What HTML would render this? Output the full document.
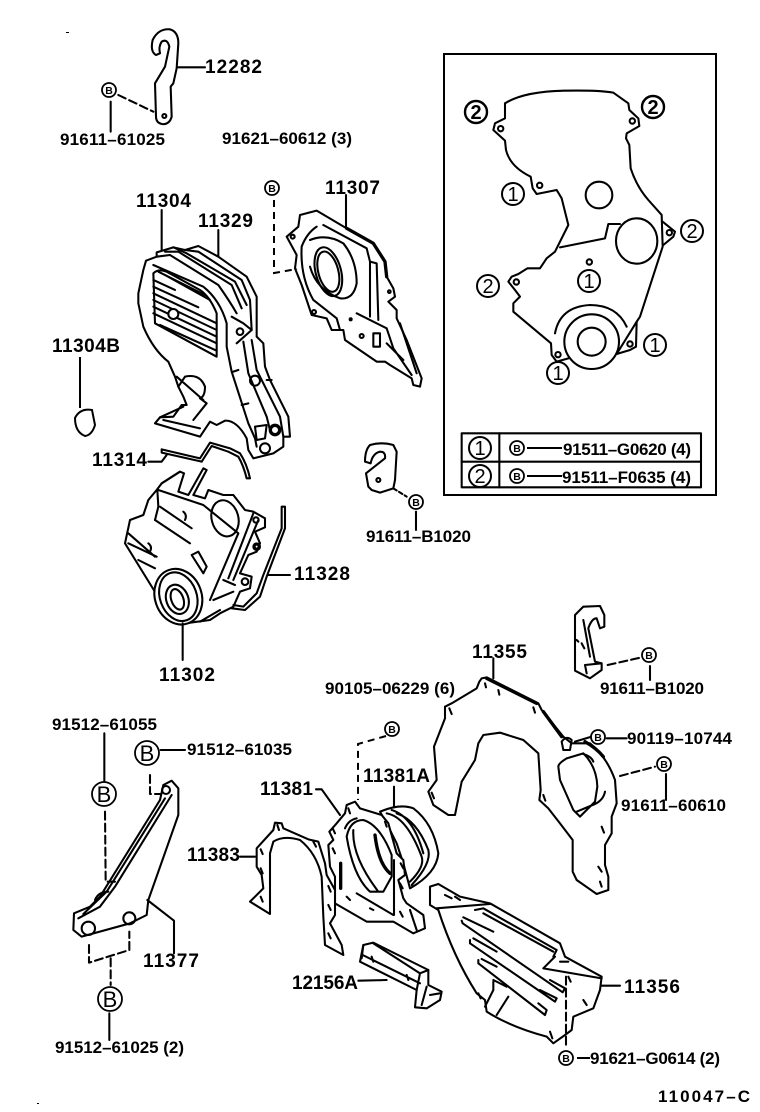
<!DOCTYPE html>
<html><head><meta charset="utf-8"><style>
html,body{margin:0;padding:0;background:#fff}
svg{display:block}
text{font-family:"Liberation Sans",sans-serif;font-weight:bold;fill:#000}
.l{font-size:17px}
.n{font-size:19px}
.c{font-size:20px;font-weight:normal;text-anchor:middle}
.cb{font-size:20px;font-weight:bold;text-anchor:middle}
.b{font-size:10.5px;text-anchor:middle}
.B{font-size:22px;font-weight:normal;text-anchor:middle}
.p path,.p ellipse,.p circle,.p rect{fill:none;stroke:#000;stroke-linejoin:round;stroke-linecap:round}
.p{stroke-width:6.2}
.p .f{fill:#fff}
.p .t{stroke-width:10}
.p .d{stroke-dasharray:24 12}
.r path,.r line{fill:none;stroke:#000;stroke-width:2}
.r .d{stroke-dasharray:7 5}
.r circle{fill:#fff;stroke:#000;stroke-width:1.8}
</style></head><body>
<svg width="760" height="1112" viewBox="0 0 760 1112" xmlns="http://www.w3.org/2000/svg">
<rect width="760" height="1112" fill="#fff"/>
<rect x="444" y="54" width="272" height="441" fill="none" stroke="#000" stroke-width="2"/>

<!-- gasket inset -->
<g class="p" transform="translate(440,50) scale(.33333)">
<path d="M195 160Q250 125 370 122Q480 120 520 128L565 160L568 180L595 205L598 228L560 250L558 265L568 285L572 355Q590 410 625 450L665 495L668 590L600 800L590 815L588 890L570 900L530 912"/>
<path d="M385 925L350 935L335 915L333 880L220 785L220 760L240 740L225 720L205 695L215 680L235 672L262 655L300 655L320 625L345 605L385 525L365 445L350 420L290 432L278 415L272 380Q210 350 198 300L195 272L160 240L165 220L195 205L195 160"/>
<path d="M668 515L705 545L700 560L670 585M590 815L530 912M360 592L495 565L505 522L540 522M345 850Q360 770 450 765Q530 765 560 830"/>
<circle cx="477" cy="435" r="40"/><ellipse cx="590" cy="573" rx="62" ry="68"/><circle cx="455" cy="875" r="42"/><circle cx="455" cy="875" r="82"/>
<circle cx="182" cy="236" r="8"/><circle cx="577" cy="213" r="8"/><circle cx="299" cy="406" r="8"/><circle cx="688" cy="548" r="8"/><circle cx="229" cy="696" r="8"/><circle cx="448" cy="636" r="8"/><circle cx="570" cy="882" r="8"/><circle cx="354" cy="914" r="8"/>
<rect x="65" y="1150" width="718" height="162"/>
<path d="M65 1235H783M178 1150V1312"/>
</g>
<g fill="none" stroke="#000" stroke-width="2">
<circle cx="476" cy="112" r="11" stroke-width="2.4"/><circle cx="653" cy="107" r="11" stroke-width="2.4"/><circle cx="513" cy="194" r="11"/><circle cx="692" cy="231" r="11"/><circle cx="589" cy="281" r="11"/><circle cx="488" cy="286" r="11"/><circle cx="655" cy="345" r="11"/><circle cx="558" cy="373" r="11"/><circle cx="480" cy="448" r="11"/><circle cx="480" cy="476" r="11"/>
</g>
<text class="cb" x="476" y="119">2</text><text class="cb" x="653" y="114">2</text><text class="c" x="513" y="201">1</text><text class="c" x="692" y="238">2</text><text class="c" x="589" y="288">1</text><text class="c" x="488" y="293">2</text><text class="c" x="655" y="352">1</text><text class="c" x="558" y="380">1</text><text class="c" x="480" y="455">1</text><text class="c" x="480" y="483">2</text>

<!-- 12282 hook -->
<g class="p" transform="translate(50,20) scale(.33333)">
<path d="M318 105Q300 95 308 60Q325 25 360 28Q385 35 385 70L380 145L370 190L362 200L365 290Q358 315 335 312Q318 308 318 290L315 190L345 140L358 80Q352 55 335 65Q325 80 330 100Z"/>
<circle cx="343" cy="288" r="6"/>
<path d="M385 142H465M182 245V335"/>
<path class="d" d="M205 225L310 275"/>
</g>

<!-- 11304 / 11329 -->
<g class="p" transform="translate(110,190) scale(.33333)">
<path class="f" d="M108 212L140 200L140 187L190 172L225 180L265 168L325 200L410 260L440 320L440 440L460 460L465 530L480 570L535 680L540 740L520 740L520 770L490 790L430 805L415 780L410 745Q380 690 345 692L320 705L300 695L270 740L135 700L150 682L190 680L215 645L230 645L220 620L205 590L195 560L175 515Q130 480 100 410L85 340L85 310L100 240Z"/>
<path d="M130 250Q145 235 170 245L270 300Q300 320 320 370V500L135 400Z"/>
<path d="M130 270L195 300M130 290L265 352M130 310L320 400M130 330L320 420M130 350L320 440M130 370L320 460M150 405L320 482M165 255L300 330M145 245L285 315"/>
<circle class="f" cx="190" cy="372" r="15"/>
<path d="M140 200L180 195L325 285Q360 335 380 370M165 185L205 185L365 285L395 355M225 180L265 185L395 270L420 330L425 420M190 172L230 190L375 275L410 345"/>
<path d="M130 225L280 290Q330 330 350 400V470L365 545L415 700L435 745L440 770M365 380L400 400L425 420L380 460M400 455L415 550L470 680L480 720M425 450L440 540L510 680L520 740M370 545L385 540M395 645L415 640M470 570L485 570"/>
<circle cx="435" cy="572" r="15"/><circle class="t" cx="495" cy="720" r="14"/><circle cx="390" cy="425" r="10"/><circle cx="465" cy="775" r="15"/>
<path d="M435 710L470 705L465 745L440 750Z"/>
<path d="M200 560L280 630M205 590L225 560Q270 550 285 590Q285 620 270 625L290 640L250 690M150 682L220 650M160 690L270 715"/>
<path d="M155 60V180M325 120V200M708 15V112"/>
</g>

<!-- 11307 -->
<g class="p" transform="translate(110,190) scale(.33333)">
<path class="f" d="M570 75L620 62L710 115L790 160L825 215L830 260L850 295L855 320L835 335L860 360L860 385L890 450L935 565L930 590L910 585L905 565L840 525L825 515L800 515L705 450L700 420L665 420L650 385L605 375L575 285L555 235L560 195L530 140L565 110Z"/>
<path class="t" d="M710 115L790 160L825 215L830 260"/>
<path d="M620 110Q590 130 575 170Q570 260 610 330L680 385L690 420M600 150Q650 130 700 160Q740 210 740 280Q730 330 690 325Q620 300 600 230"/>
<ellipse cx="655" cy="245" rx="38" ry="75" transform="rotate(-15 655 245)"/><ellipse cx="655" cy="245" rx="30" ry="62" transform="rotate(-15 655 245)"/>
<path d="M640 105L770 175L780 215L800 220L805 390M780 215V380M740 370L830 415L850 475L905 555M870 400L920 550M830 460L880 510"/>
<rect x="790" y="430" width="20" height="40"/>
<circle cx="548" cy="140" r="6"/><circle cx="612" cy="366" r="6"/><circle cx="755" cy="438" r="6"/><circle cx="722" cy="388" r="3"/><circle cx="838" cy="305" r="4"/>
</g>

<!-- 11304B plug -->
<path d="M75 418Q80 408 92 410L95 425Q92 435 85 436Q75 432 75 418Z" fill="none" stroke="#000" stroke-width="2"/>
<path d="M80 357V408" stroke="#000" stroke-width="2"/>

<!-- 11302 -->
<g class="p" transform="translate(100,440) scale(.33333)">
<path class="f" d="M170 150L185 130L240 95L252 100L235 155L265 165L310 85L320 90L280 165L315 175L325 150L370 165L400 165L435 210L460 215L495 235L495 262L465 275L480 310L470 335L445 345L420 400L455 410L450 445L420 455L400 500L360 520L330 540L270 548L230 548Q195 530 180 480L75 310L90 240L130 225L145 180Z"/>
<path d="M172 150L175 200L165 240M175 150L310 195L415 280L330 480M185 130L240 95"/>
<ellipse cx="375" cy="235" rx="40" ry="55" transform="rotate(-15 375 235)"/>
<path d="M180 200L275 265M165 240L270 310M85 280L165 350M85 310L170 350M115 360L165 385M250 215Q262 225 255 240M145 310Q158 320 150 335"/>
<ellipse class="f" cx="235" cy="470" rx="70" ry="85" transform="rotate(-20 235 470)"/>
<ellipse cx="235" cy="470" rx="55" ry="75" transform="rotate(-20 235 470)"/>
<ellipse cx="232" cy="478" rx="33" ry="45" transform="rotate(-20 232 478)"/>
<ellipse cx="232" cy="478" rx="18" ry="32" transform="rotate(-20 232 478)"/>
<path class="f" d="M275 345L295 335L320 380L310 400Z"/>
<path d="M460 220L385 415M475 240L400 420M340 480L400 455M370 420L405 435M300 545L360 510"/>
<circle class="t" cx="470" cy="320" r="8"/><circle cx="435" cy="425" r="10"/><circle cx="468" cy="240" r="8"/>
<path d="M545 200H555V265L500 410L480 470L435 510L395 505M545 200V265L490 405L470 460L430 500L400 495"/>
<path d="M505 405H570M248 550V660"/>
</g>

<!-- 11314 -->
<g class="p" transform="translate(100,440) scale(.33333)">
<path class="f" d="M185 28L300 55L330 8L390 25L420 40Q440 70 450 115L440 115Q430 75 415 50L385 35L335 18L305 65L185 38Z"/>
<path d="M145 65H185L200 45"/>
</g>

<!-- B1020 hook middle -->
<g class="p" transform="translate(350,430) scale(.33333)">
<path d="M45 95Q45 60 60 45Q95 35 130 45L140 65L135 150L130 175L90 188L65 180L55 170L48 130L105 85Q108 65 90 65Q68 70 62 100Z"/>
<circle cx="85" cy="150" r="6"/>
<path d="M198 245V300"/>
<path class="d" style="stroke-dasharray:12 8" d="M130 175L170 200"/>
</g>

<!-- 11355 -->
<g class="p" transform="translate(420,600) scale(.33333)">
<path d="M465 45L490 20L540 18L553 45V80L540 85L530 55Q515 55 505 85L525 185L545 190V210L510 235L465 212ZM490 60L510 170M495 195L545 190M495 195L500 220M470 120L475 125"/>
<path d="M690 198V240"/>
<path class="d" d="M563 195L665 172"/>
<path class="f" d="M185 235L200 232L355 310L365 330L430 410L455 430H510Q560 470 585 540L590 610L575 650V700L555 735V795L565 830V870L530 882L470 840L458 815V720L420 670L385 625L358 600L362 570L355 460L310 420L240 398L190 405L175 430L165 480L125 545L105 645H85L40 615L25 575L50 540L42 440L75 355V320L95 310L170 265L178 245Z"/>
<path class="t" d="M200 235L350 310M370 335L425 410M495 425Q530 445 550 470"/>
<path d="M415 500Q415 490 440 475L490 460Q530 500 532 560L525 605L480 650L460 630L420 540ZM470 635L525 612Q550 600 555 575M490 462Q515 470 520 485M425 425Q440 405 455 420L450 450H430Z"/>
<path d="M195 250L198 262M235 270L238 284M340 322L345 338M88 325L95 342M35 578L42 595M370 585L376 602M545 680L552 698M535 800L545 815M540 845L545 860M485 130L493 145"/>
<path class="d" d="M600 528L705 500"/>
<path d="M465 425L515 410M560 415H620M738 522V600M220 175V235"/>
</g>

<!-- lower parts -->
<g class="p" transform="translate(240,760) scale(.33333)">
<path class="f" d="M420 155Q480 130 520 145Q580 190 595 280Q590 340 510 385L490 310L470 250L440 190Z"/>
<path d="M440 160Q500 170 545 290Q555 320 510 365M455 150Q520 170 550 280M470 160Q530 180 565 270Q575 310 515 375M462 80V140"/>
<path class="f" d="M320 135L345 125L360 145L425 165L445 190L470 280L490 300L495 345L475 360L490 415L500 430L550 465L555 505L520 520L460 485H380L285 430V350L270 320L265 255L280 240L268 215L290 190L315 160Z"/>
<path d="M320 230Q330 180 370 180Q420 195 455 285V350L430 395H390Q340 350 320 230ZM340 210Q335 290 415 395M350 400L460 465M462 300V465M315 205Q325 180 350 175M510 450L530 510"/>
<path class="t" d="M405 225Q415 310 450 340M302 310V385"/>
<path class="f" d="M105 188L125 190L130 205L205 238L235 245L255 310L260 345L285 390V465L270 490L305 555L310 585L255 555L250 470L245 350Q230 280 180 240Q130 225 100 245L90 280V462L30 425L70 385L65 345L50 320V265L100 210Z"/>
<path d="M112 195L117 210M62 268L68 282M62 325L68 340M62 410L68 425M265 378L272 395M265 435L272 450M265 520L272 535M220 245L228 260M278 205L285 220M278 265L285 280M325 145L330 160M435 185L440 200M482 310L490 325M480 370L488 385M480 455L488 470M320 410L330 420M390 445L400 450"/>
<path d="M228 88H245L300 165M0 290H45"/>
<path class="f" d="M370 555L400 548L565 630V675L605 695L600 720L560 745L525 742L530 690L360 605Z"/>
<path d="M370 555L365 595M368 585L540 670M540 640L565 630M540 640L530 690M400 550L540 640M560 680L545 735M570 705L600 700M355 662L440 660M395 590L400 605M500 645L505 660"/>
<path class="f" d="M570 380L595 372L660 410L750 430L960 550L975 590L1085 650L1080 690L1060 745L1000 770L995 810L975 825L940 850L920 830Q810 800 740 755L735 720L710 700Q640 590 595 450L570 435Z"/>
<path d="M705 450L730 445L950 570L940 590M730 460L940 575M590 445L750 432M910 625L945 590M910 625L1085 655"/>
<path d="M670 472L760 515M665 482L668 490L968 697L975 685L930 660M700 535L770 575M690 540L690 550L945 725L950 715L900 690M725 597L770 620M715 600L715 610L915 765L920 750L895 730M760 665V690L735 740M760 660L800 680M805 710L770 765"/>
<path d="M615 405L635 415M645 410L660 420M960 605L985 605M985 650L992 665M1030 720L1040 735M930 815L937 835M715 700L722 715"/>
<path class="d" d="M978 650V860"/>
<path d="M1085 677H1140"/>
</g>

<!-- 11377 -->
<g class="p" transform="translate(40,710) scale(.33333)">
<path class="f" d="M102 610L150 590L180 560L360 270L370 225L395 212L415 235V315L325 570L320 615L270 640L125 680L100 660Z"/>
<path d="M115 625L180 590L225 530L395 255M130 612L200 545L375 265M165 570Q175 545 205 545"/>
<circle cx="145" cy="655" r="20"/><circle cx="268" cy="625" r="18"/><circle cx="378" cy="240" r="12"/>
<path d="M193 70V215M362 120H435M322 570L402 632V730M208 910V990"/>
<path class="d" d="M195 305L197 515H225M330 195V252H360M147 705V758L268 720V665M212 745V825"/>
</g>

<!-- connectors real coords -->
<g class="r">
<path class="d" d="M274 200V273L297 269"/>
<path class="d" d="M386 736L358 744V800"/>
<path d="M527 448H562M527 476H562M577 1058H590"/>
<circle cx="109" cy="90" r="7"/><circle cx="272" cy="188" r="7"/><circle cx="416" cy="502" r="7"/><circle cx="649" cy="655" r="7"/><circle cx="392" cy="729" r="7"/><circle cx="598" cy="737" r="7"/><circle cx="664" cy="764" r="7"/><circle cx="566" cy="1058" r="7"/><circle cx="517" cy="448" r="7"/><circle cx="517" cy="476" r="7"/>
<circle cx="147" cy="753" r="12"/><circle cx="104" cy="794" r="12"/><circle cx="110" cy="999" r="12"/>
</g>
<text class="b" x="109" y="94">B</text><text class="b" x="272" y="192">B</text><text class="b" x="416" y="506">B</text><text class="b" x="649" y="659">B</text><text class="b" x="392" y="733">B</text><text class="b" x="598" y="741">B</text><text class="b" x="664" y="768">B</text><text class="b" x="566" y="1062">B</text><text class="b" x="517" y="452">B</text><text class="b" x="517" y="480">B</text>
<text class="B" x="147" y="761">B</text><text class="B" x="104" y="802">B</text><text class="B" x="110" y="1007">B</text>

<!-- labels -->
<text class="n" x="205" y="73" textLength="57">12282</text>
<text class="l" x="60" y="145" textLength="105">91611–61025</text>
<text class="l" x="222" y="144" textLength="130">91621–60612 (3)</text>
<text class="n" x="136" y="207" textLength="55">11304</text>
<text class="n" x="198" y="227" textLength="55">11329</text>
<text class="n" x="325" y="194" textLength="55">11307</text>
<text class="n" x="52" y="352" textLength="68">11304B</text>
<text class="n" x="92" y="466" textLength="55">11314</text>
<text class="l" x="366" y="542" textLength="105">91611–B1020</text>
<text class="n" x="294" y="580" textLength="56">11328</text>
<text class="n" x="159" y="681" textLength="56">11302</text>
<text class="n" x="472" y="658" textLength="55">11355</text>
<text class="l" x="600" y="694" textLength="104">91611–B1020</text>
<text class="l" x="325" y="694" textLength="130">90105–06229 (6)</text>
<text class="l" x="52" y="730" textLength="105">91512–61055</text>
<text class="l" x="187" y="755" textLength="105">91512–61035</text>
<text class="l" x="627" y="744" textLength="105">90119–10744</text>
<text class="n" x="363" y="782" textLength="67">11381A</text>
<text class="n" x="260" y="795" textLength="53">11381</text>
<text class="l" x="621" y="811" textLength="105">91611–60610</text>
<text class="n" x="187" y="861" textLength="53">11383</text>
<text class="n" x="143" y="967" textLength="56">11377</text>
<text class="n" x="292" y="989" textLength="66">12156A</text>
<text class="n" x="624" y="993" textLength="56">11356</text>
<text class="l" x="55" y="1053" textLength="129">91512–61025 (2)</text>
<text class="l" x="590" y="1064" textLength="130">91621–G0614 (2)</text>
<text class="l" x="658" y="1102" textLength="92">110047–C</text>
<text class="l" x="563" y="455" textLength="128">91511–G0620 (4)</text>
<text class="l" x="562" y="483" textLength="129">91511–F0635 (4)</text>
<rect x="66" y="32" width="3" height="1" fill="#000"/><rect x="37" y="1103" width="2" height="1" fill="#000"/>
</svg>
</body></html>
